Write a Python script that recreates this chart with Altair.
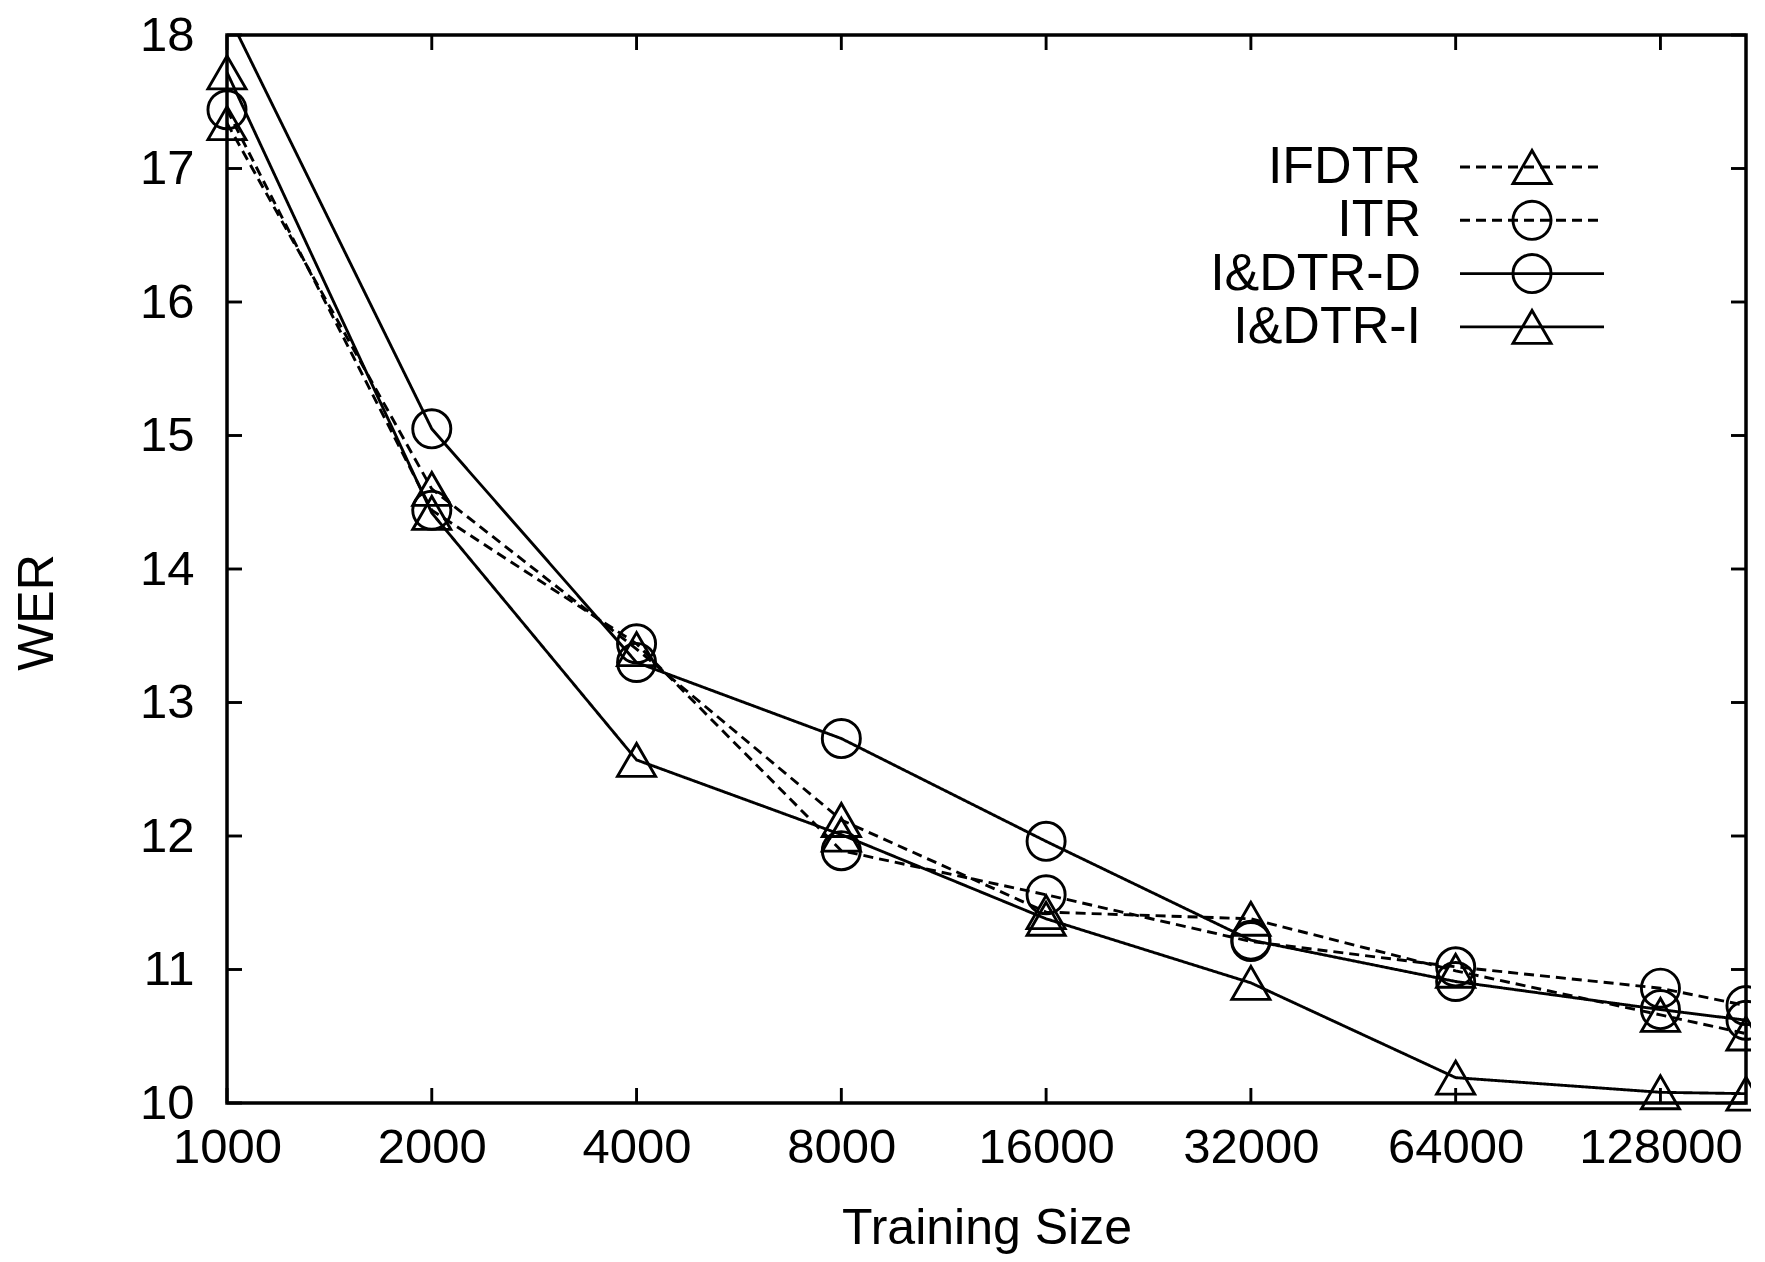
import altair as alt
import pandas as pd

# ---- data ----
sizes = [1000, 2000, 4000, 8000, 16000, 32000, 64000, 128000, 171000]
series_names = ["IFDTR", "ITR", "I&DTR-D", "I&DTR-I"]
ifdtr = [17.34, 14.60, 13.40, 12.12, 11.43, 11.38, 10.99, 10.66, 10.52]
itr = [17.44, 14.44, 13.44, 11.89, 11.56, 11.21, 11.02, 10.86, 10.73]
idtr_d = [18.17, 15.05, 13.30, 12.73, 11.96, 11.22, 10.91, 10.70, 10.62]
idtr_i = [17.72, 14.42, 12.57, 12.01, 11.38, 10.90, 10.19, 10.08, 10.07]
x_ticks = [1000, 2000, 4000, 8000, 16000, 32000, 64000, 128000]
y_ticks = [10, 11, 12, 13, 14, 15, 16, 17, 18]
series_shapes = ["triangle-up", "circle", "circle", "triangle-up"]
series_dashes = [[10, 6], [10, 6], [1, 0], [1, 0]]

W, H = 1519, 1068
FONT = "Liberation Sans"
TICK = 15
SW = 2.9
MSIZE = 1450
X_DOMAIN = [1000, 171000]
Y_DOMAIN = [10, 18]

values = [ifdtr, itr, idtr_d, idtr_i]
rows = []
for name, vals in zip(series_names, values):
    for s, v in zip(sizes, vals):
        rows.append({"size": s, "wer": v, "series": name})
df = pd.DataFrame(rows)

xscale = alt.Scale(type="log", base=2, domain=X_DOMAIN, nice=False)
yscale = alt.Scale(domain=Y_DOMAIN, nice=False, zero=False)

x_enc = alt.X(
    "size:Q",
    scale=xscale,
    axis=alt.Axis(
        values=x_ticks, format="d", ticks=False, domain=False, grid=False,
        labelFont=FONT, labelFontSize=49, labelColor="black", labelPadding=20,
        labelFlush=False, labelOverlap=False,
        title="Training Size", titleFont=FONT, titleFontSize=50,
        titleFontWeight="normal", titleColor="black",
        titleY=140, titleBaseline="alphabetic",
    ),
)
y_enc = alt.Y(
    "wer:Q",
    scale=yscale,
    axis=alt.Axis(
        values=y_ticks, format="d", ticks=False, domain=False, grid=False,
        labelFont=FONT, labelFontSize=49, labelColor="black", labelPadding=33,
        title="WER", titleFont=FONT, titleFontSize=50,
        titleFontWeight="normal", titleColor="black",
        titleX=-190, titleY=577, titleBaseline="middle", titleAlign="center",
        titleAngle=270,
    ),
)

dash_scale = alt.Scale(domain=series_names, range=series_dashes)
shape_scale = alt.Scale(domain=series_names, range=series_shapes)

lines = alt.Chart(df).mark_line(clip=True, color="black", strokeWidth=SW).encode(
    x=x_enc, y=y_enc,
    strokeDash=alt.StrokeDash("series:N", scale=dash_scale, legend=None),
    detail="series:N",
)

points = alt.Chart(df).transform_filter(
    alt.datum.wer <= Y_DOMAIN[1]
).mark_point(filled=False, color="black", size=MSIZE, strokeWidth=SW, opacity=1).encode(
    x=alt.X("size:Q", scale=xscale),
    y=alt.Y("wer:Q", scale=yscale),
    shape=alt.Shape("series:N", scale=shape_scale, legend=None),
)

# inward ticks on all four sides
ydf = pd.DataFrame({"t": y_ticks})
xdf = pd.DataFrame({"t": x_ticks})
tick_style = dict(color="black", strokeWidth=SW)
left_ticks = alt.Chart(ydf).mark_rule(**tick_style).encode(
    y=alt.Y("t:Q", scale=yscale), x=alt.value(0), x2=alt.value(TICK))
right_ticks = alt.Chart(ydf).mark_rule(**tick_style).encode(
    y=alt.Y("t:Q", scale=yscale), x=alt.value(W - TICK), x2=alt.value(W))
bottom_ticks = alt.Chart(xdf).mark_rule(**tick_style).encode(
    x=alt.X("t:Q", scale=xscale), y=alt.value(H), y2=alt.value(H - TICK))
top_ticks = alt.Chart(xdf).mark_rule(**tick_style).encode(
    x=alt.X("t:Q", scale=xscale), y=alt.value(0), y2=alt.value(TICK))

# gnuplot-style key: label on the left, line sample + marker on the right
legend_layers = []
key_text_x = 1194
key_line_x1, key_line_x2 = 1233, 1377
key_sym_x = (key_line_x1 + key_line_x2) / 2
key_y0, key_dy = 132, 53.3
for i, name in enumerate(series_names):
    ky = key_y0 + i * key_dy
    one = pd.DataFrame({"series": [name]})
    legend_layers.append(
        alt.Chart(one).mark_text(
            align="right", baseline="middle", font=FONT, fontSize=52, color="black"
        ).encode(text="series:N", x=alt.value(key_text_x), y=alt.value(ky))
    )
    legend_layers.append(
        alt.Chart(one).mark_rule(
            color="black", strokeWidth=SW, strokeDash=series_dashes[i]
        ).encode(x=alt.value(key_line_x1), x2=alt.value(key_line_x2), y=alt.value(ky))
    )
    legend_layers.append(
        alt.Chart(one).mark_point(
            filled=False, color="black", size=MSIZE, strokeWidth=SW, opacity=1,
            shape=series_shapes[i],
        ).encode(x=alt.value(key_sym_x), y=alt.value(ky))
    )

chart = alt.layer(
    lines, points, left_ticks, right_ticks, bottom_ticks, top_ticks, *legend_layers
).properties(
    width=W, height=H,
    autosize=alt.AutoSizeParams(type="none"),
    padding={"left": 219, "top": 27, "right": 5, "bottom": 151},
    background="white",
).configure_view(
    stroke="black", strokeWidth=3.5,
)

chart.save("out.html", embed_options={"renderer": "svg", "actions": False})
